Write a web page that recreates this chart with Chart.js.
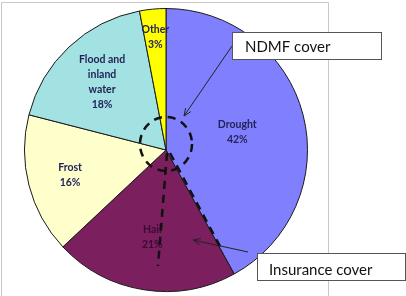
<!DOCTYPE html>
<html>
<head>
<meta charset="utf-8">
<script src="https://cdn.jsdelivr.net/npm/chart.js@4.4.0/dist/chart.umd.min.js"></script>
<style>
  html, body { margin: 0; padding: 0; background: #fff; }
  #wrap { width: 406px; height: 296px; position: relative; }
</style>
</head>
<body>
<div id="wrap"><canvas id="pie"></canvas></div>
<script>
// Loss causes and their share (%)
var categories = ['Drought', 'Hail', 'Frost', 'Flood and inland water', 'Other'];
var shares = [42, 21, 16, 18, 3];
var sliceColours = ['#8080ff', '#7b1f5f', '#ffffcc', '#a3e2e2', '#ffff00'];

// Callout texts
var ndmfText = 'NDMF cover';
var insuranceText = 'Insurance cover';

// Labels drawn inside each slice (like Excel data labels)
var sliceLabels = {
  id: 'sliceLabels',
  afterDatasetsDraw: function (chart) {
    var ctx = chart.ctx;
    var meta = chart.getDatasetMeta(0);
    var radial = [0.52, 0.62, 0.70, 0.66, 0.80];
    var lines = [['Drought'], ['Hail'], ['Frost'], ['Flood and', 'inland', 'water'], ['Other']];
    ctx.save();
    ctx.font = 'bold 10.5px Lato';
    ctx.textAlign = 'center';
    ctx.textBaseline = 'middle';
    meta.data.forEach(function (arc, i) {
      var p = arc.getProps(['x', 'y', 'startAngle', 'endAngle', 'outerRadius'], true);
      var mid = (p.startAngle + p.endAngle) / 2;
      var r = p.outerRadius * radial[i];
      var x = p.x + Math.cos(mid) * r;
      var y = p.y + Math.sin(mid) * r;
      var text = lines[i].concat([shares[i] + '%']);
      var lh = 15;
      var y0 = y - (text.length - 1) * lh / 2;
      ctx.fillStyle = i === 1 ? '#3b0a33' : '#23235a';
      text.forEach(function (t, k) {
        ctx.fillText(t, x, y0 + k * lh);
      });
    });
    ctx.restore();
  }
};

// Frame and hand-drawn annotations
function arrow(ctx, x1, y1, x2, y2) {
  ctx.beginPath();
  ctx.moveTo(x1, y1);
  ctx.lineTo(x2, y2);
  ctx.stroke();
  var a = Math.atan2(y2 - y1, x2 - x1);
  var L = 8, w = 0.4;
  ctx.beginPath();
  ctx.moveTo(x2 - L * Math.cos(a - w), y2 - L * Math.sin(a - w));
  ctx.lineTo(x2, y2);
  ctx.lineTo(x2 - L * Math.cos(a + w), y2 - L * Math.sin(a + w));
  ctx.stroke();
}

var annotations = {
  id: 'annotations',
  beforeDraw: function (chart) {
    var ctx = chart.ctx;
    ctx.save();
    ctx.strokeStyle = '#c8c8c8';
    ctx.lineWidth = 1;
    ctx.beginPath();
    ctx.moveTo(1.5, 296);
    ctx.lineTo(1.5, 2.5);
    ctx.lineTo(328.5, 2.5);
    ctx.lineTo(328.5, 296);
    ctx.stroke();
    ctx.restore();
  },
  afterDraw: function (chart) {
    var ctx = chart.ctx;
    var arc = chart.getDatasetMeta(0).data[0];
    var cx = arc.x, cy = arc.y;
    ctx.save();
    // dashed marks
    ctx.strokeStyle = '#111';
    ctx.lineWidth = 2.5;
    ctx.setLineDash([8, 6]);
    ctx.beginPath();
    ctx.ellipse(cx, cy - 6, 26, 27, 0, 0, Math.PI * 2);
    ctx.stroke();
    ctx.beginPath();
    ctx.moveTo(cx + 1, cy + 3);
    ctx.lineTo(cx - 8, cy + 116);
    ctx.stroke();
    ctx.beginPath();
    ctx.moveTo(cx + 4, cy + 3);
    ctx.lineTo(cx + 56, cy + 100);
    ctx.stroke();
    ctx.setLineDash([]);

    // arrows
    ctx.lineWidth = 1;
    ctx.strokeStyle = '#222';
    arrow(ctx, 232, 46, 184, 116);
    arrow(ctx, 248, 252, 193, 240);

    // callout boxes
    ctx.fillStyle = '#fff';
    ctx.strokeStyle = '#555';
    ctx.fillRect(232.5, 32.5, 149, 27);
    ctx.strokeRect(232.5, 32.5, 149, 27);
    ctx.fillRect(257.5, 253.5, 148, 27);
    ctx.strokeRect(257.5, 253.5, 148, 27);
    ctx.fillStyle = '#111';
    ctx.font = '15px Lato';
    ctx.textBaseline = 'middle';
    ctx.textAlign = 'left';
    ctx.fillText(ndmfText, 245, 47);
    ctx.fillText(insuranceText, 269, 270);
    ctx.restore();
  }
};

var chart = new Chart(document.getElementById('pie'), {
  type: 'pie',
  data: {
    labels: categories,
    datasets: [{
      data: shares,
      backgroundColor: sliceColours,
      borderColor: '#1a1a1a',
      borderWidth: 1
    }]
  },
  options: {
    responsive: true,
    maintainAspectRatio: false,
    animation: false,
    layout: { padding: { left: 24, right: 98, top: 8, bottom: 4 } },
    plugins: {
      legend: { display: false },
      tooltip: { enabled: false }
    }
  },
  plugins: [sliceLabels, annotations]
});
</script>
</body>
</html>
